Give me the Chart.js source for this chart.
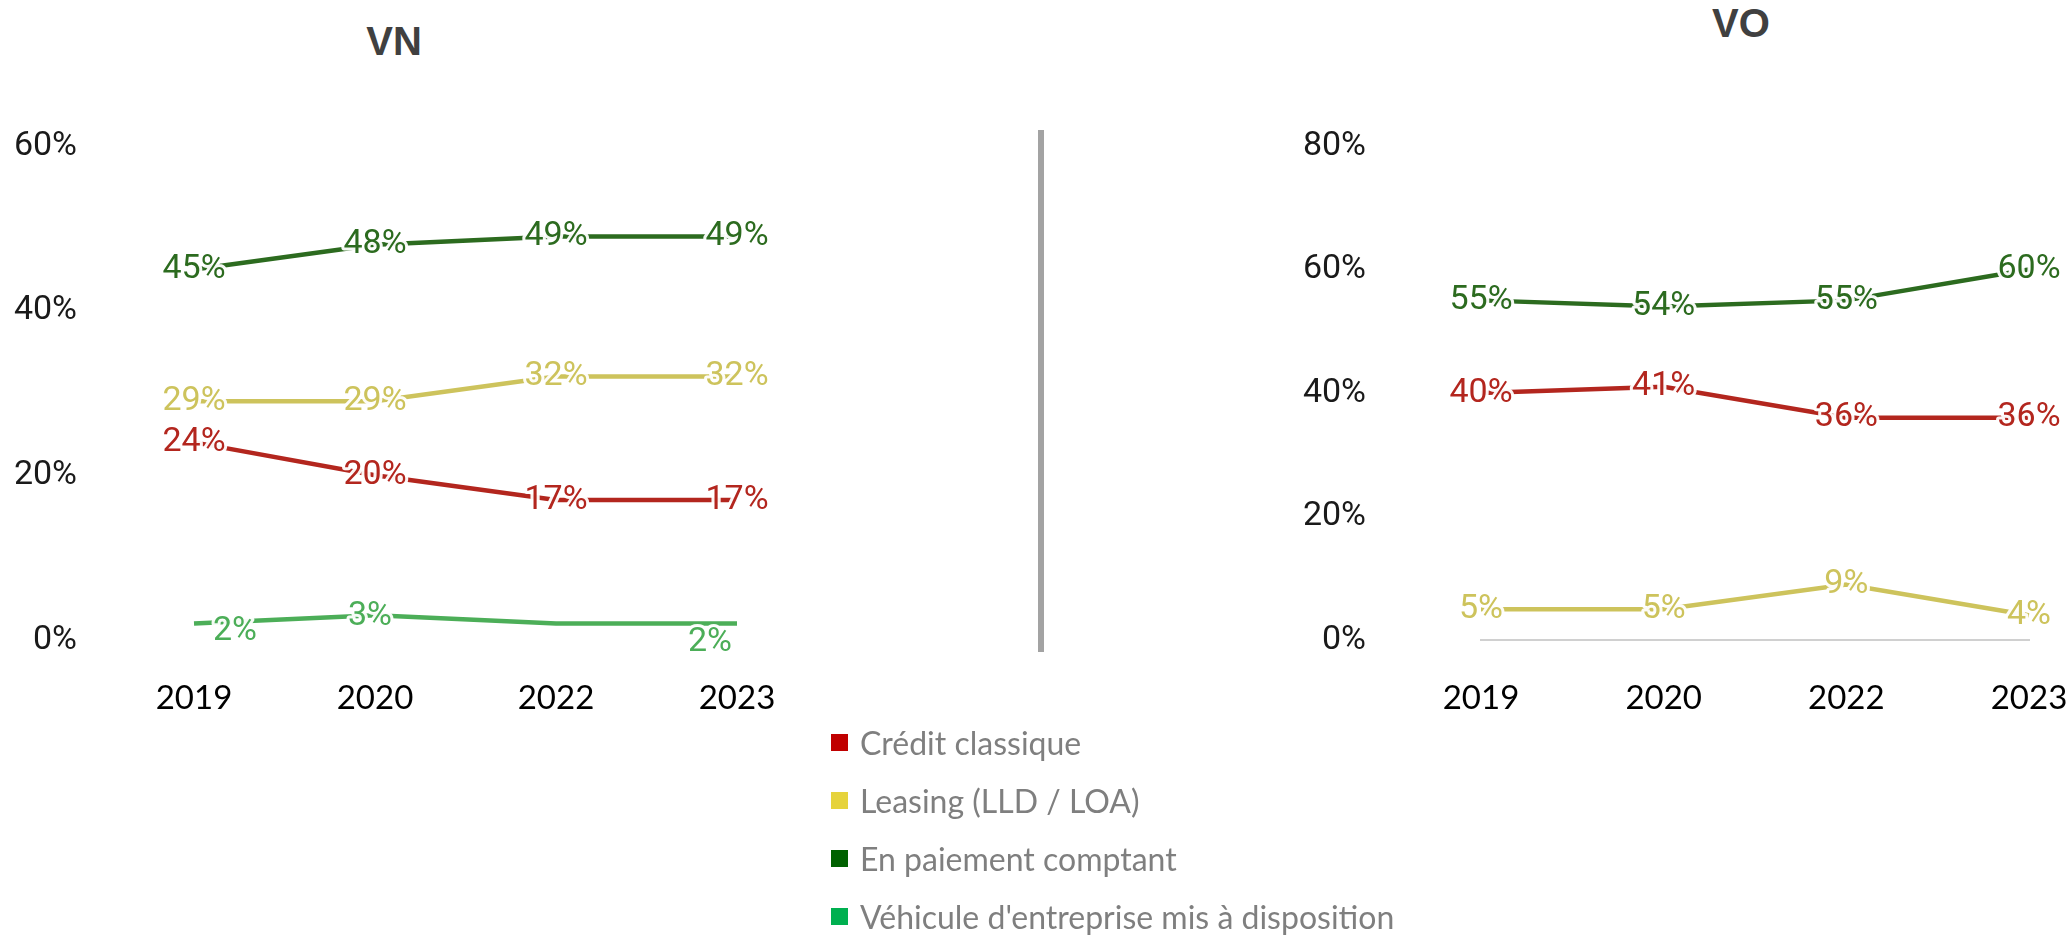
<!DOCTYPE html>
<html>
<head>
<meta charset="utf-8">
<script src="https://cdn.jsdelivr.net/npm/chart.js@4/dist/chart.umd.min.js"></script>
<style>
  html, body { margin: 0; padding: 0; background: #fff; }
  body { width: 2069px; height: 937px; position: relative; overflow: hidden; }
  .box { position: absolute; top: 0; }
  .titre { position: absolute; font-family: "Liberation Sans", Arial, sans-serif; font-weight: bold;
           font-size: 40px; color: #404040; transform: translateX(-50%); }
  .sep { position: absolute; left: 1038px; top: 130px; width: 6px; height: 522px; background: #a3a3a3; }
  #legende { position: absolute; left: 831px; top: 713px; font-family: Lato, "Open Sans", sans-serif;
             font-size: 32px; color: #7f7f7f; }
  #legende div { height: 58px; display: flex; align-items: center; }
  #legende span { display: inline-block; width: 17px; height: 17px; margin-right: 12px; }
</style>
</head>
<body>
<div class="titre" style="left:394px; top:19px;">VN</div>
<div class="titre" style="left:1741px; top:1px;">VO</div>
<div class="sep"></div>
<div class="box" style="left:0; width:800px; height:760px;"><canvas id="vnChart"></canvas></div>
<div class="box" style="left:1060px; width:1009px; height:760px;"><canvas id="voChart"></canvas></div>
<div id="legende"></div>

<script>
// Données
const annees = ['2019', '2020', '2022', '2023'];
const nomsSeries = ['Crédit classique', 'Leasing (LLD / LOA)', 'En paiement comptant', "Véhicule d'entreprise mis à disposition"];

// VN
const vnCredit = [24, 20, 17, 17];
const vnLeasing = [29, 29, 32, 32];
const vnComptant = [45, 48, 49, 49];
const vnEntreprise = [2, 3, 2, 2];
const vnTicks = [0, 20, 40, 60];

// VO
const voCredit = [40, 41, 36, 36];
const voLeasing = [5, 5, 9, 4];
const voComptant = [55, 54, 55, 60];
const voTicks = [0, 20, 40, 60, 80];

const couleursLignes = ['#b3261e', '#cdc35c', '#2c6b1f', '#4cae58'];
const couleursLegende = ['#c00000', '#e6d33c', '#006100', '#00b050'];

// légende commune
const legende = document.getElementById('legende');
nomsSeries.forEach((nom, i) => {
    const ligne = document.createElement('div');
    ligne.innerHTML = '<span style="background:' + couleursLegende[i] + '"></span>' + nom;
    legende.appendChild(ligne);
});

// étiquettes de valeurs avec contour blanc
const etiquettes = {
    id: 'etiquettes',
    afterDatasetsDraw(chart, args, opts) {
        const ctx = chart.ctx;
        ctx.save();
        ctx.font = '34px Roboto, "Open Sans", sans-serif';
        ctx.textAlign = 'center';
        ctx.textBaseline = 'middle';
        ctx.lineJoin = 'round';
        chart.data.datasets.forEach((ds, di) => {
            const meta = chart.getDatasetMeta(di);
            const decal = (opts.decalages || {})[di] || [];
            meta.data.forEach((pt, i) => {
                const d = decal[i] === undefined ? [0, 0] : decal[i];
                if (d === null) return;
                const x = pt.x + d[0];
                const y = pt.y + d[1];
                const txt = ds.data[i] + '%';
                ctx.strokeStyle = 'rgba(255,255,255,0.95)';
                ctx.lineWidth = 6;
                ctx.strokeText(txt, x, y);
                ctx.fillStyle = ds.borderColor;
                ctx.fillText(txt, x, y);
            });
        });
        ctx.restore();
    }
};

function serie(nom, valeurs, couleur) {
    return {
        label: nom,
        data: valeurs,
        borderColor: couleur,
        borderWidth: 4.5,
        pointRadius: 0,
        tension: 0,
        fill: false,
        clip: false
    };
}

// pas de marge automatique des axes : la zone du graphique suit layout.padding
function sansMarge(s) {
    s.paddingTop = 0; s.paddingBottom = 0; s.paddingLeft = 0; s.paddingRight = 0;
}

function options(max, ticks, largeurY, padGauche, padDroite, basVisible, decalages) {
    return {
        responsive: true,
        maintainAspectRatio: false,
        animation: false,
        layout: { padding: { top: 146, right: padDroite, left: 0, bottom: 0 } },
        plugins: {
            legend: { display: false },
            tooltip: { enabled: false },
            etiquettes: { decalages: decalages }
        },
        scales: {
            x: {
                offset: false,
                grid: { display: false, drawTicks: false },
                border: { display: basVisible, color: '#d0d0d0', width: 2 },
                ticks: { color: '#000', font: { family: 'Lato, "Open Sans", sans-serif', size: 33 }, padding: 39 },
                afterFit: (s) => { s.height = 120; sansMarge(s); }
            },
            y: {
                min: 0,
                max: max,
                grid: { display: false, drawTicks: false },
                border: { display: false },
                afterBuildTicks: (s) => { s.ticks = ticks.map(v => ({ value: v })); },
                ticks: {
                    color: '#1a1a1a',
                    padding: padGauche,
                    font: { family: 'Roboto, "Open Sans", sans-serif', size: 34 },
                    callback: (v) => v + '%'
                },
                afterFit: (s) => { s.width = largeurY; sansMarge(s); }
            }
        }
    };
}

new Chart(document.getElementById('vnChart'), {
    type: 'line',
    data: {
        labels: annees,
        datasets: [
            serie(nomsSeries[0], vnCredit, couleursLignes[0]),
            serie(nomsSeries[1], vnLeasing, couleursLignes[1]),
            serie(nomsSeries[2], vnComptant, couleursLignes[2]),
            serie(nomsSeries[3], vnEntreprise, couleursLignes[3])
        ]
    },
    options: options(60, vnTicks, 194, 117, 63, false, { 3: [[41, 8], [-5, 1], null, [-27, 19]] }),
    plugins: [etiquettes]
});

new Chart(document.getElementById('voChart'), {
    type: 'line',
    data: {
        labels: annees,
        datasets: [
            serie(nomsSeries[0], voCredit, couleursLignes[0]),
            serie(nomsSeries[1], voLeasing, couleursLignes[1]),
            serie(nomsSeries[2], voComptant, couleursLignes[2])
        ]
    },
    options: options(80, voTicks, 421, 115, 40, true, {}),
    plugins: [etiquettes]
});
</script>
</body>
</html>
